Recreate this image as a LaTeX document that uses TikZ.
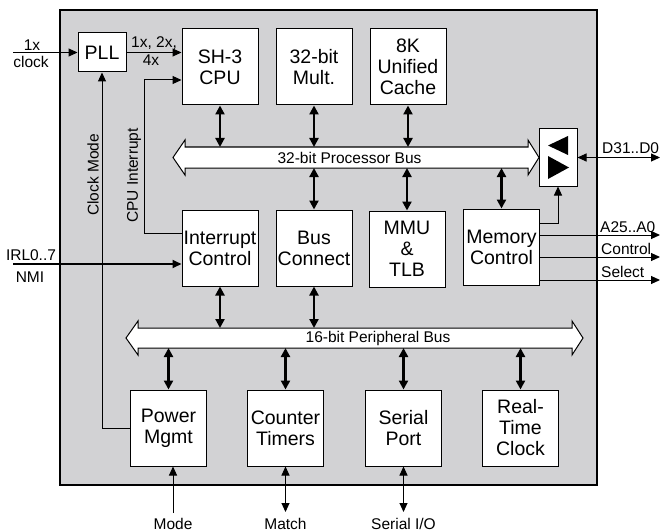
\documentclass[tikz,border=0pt]{standalone}
\usepackage{fontspec}
\setmainfont{Liberation Sans}
\usetikzlibrary{arrows.meta,calc}
\definecolor{chipgray}{RGB}{210,210,212}
\begin{document}
\begin{tikzpicture}[x=1pt,y=-1pt,
  blk/.style={draw,fill=white,line width=1pt,minimum width=76pt,minimum height=76pt,inner sep=0pt,align=center,font=\fontsize{19.5}{21}\selectfont},
  lbl/.style={font=\fontsize{15.5}{17}\selectfont,inner sep=0pt},
  thinarr/.style={line width=1pt,-{Triangle[length=9pt,width=8pt]}},
  thinboth/.style={line width=1pt,{Triangle[length=9pt,width=8pt]}-{Triangle[length=9pt,width=8pt]}},
  thickarr/.style={line width=2pt,-{Triangle[length=9pt,width=8pt]}},
  busarr/.style={line width=2.2pt,{Triangle[length=9pt,width=9pt]}-{Triangle[length=9pt,width=9pt]}},
  busshape/.style={draw,fill=white,line width=1pt,line join=miter}]
\useasboundingbox (0,0) rectangle (661,532);
% chip outline
\node[draw,fill=chipgray,line width=2.5pt,minimum width=537pt,minimum height=475pt,inner sep=0pt] (chip) at (328.5,247.5) {};

% buses
\draw[busshape] (173,157.5) -- (185,140) -- (185,147) -- (528,147) -- (528,140) -- (539,157.5) -- (528,175) -- (528,168) -- (185,168) -- (185,175) -- cycle;
\node[lbl] (pbus) at (349.5,157.5) {32-bit Processor Bus};
\coordinate (pbusN) at (0,147);
\coordinate (pbusS) at (0,168);
\draw[busshape] (126,338) -- (138,321) -- (138,328) -- (572,328) -- (572,321) -- (583,338) -- (572,355) -- (572,348) -- (138,348) -- (138,355) -- cycle;
\node[lbl] (perbus) at (378,338) {16-bit Peripheral Bus};
\coordinate (perN) at (0,328);
\coordinate (perS) at (0,348);

% blocks
\node[blk,minimum width=48pt,minimum height=39pt] (pll) at (102,52.5) {PLL};
\node[blk] (cpu) at (220,67) {SH-3\\CPU};
\node[blk] (mult) at (314,67) {32-bit\\Mult.};
\node[blk] (cache) at (408,67) {8K\\Unified\\Cache};
\node[blk] (intc) at (220,248) {Interrupt\\Control};
\node[blk] (busc) at (314,248) {Bus\\Connect};
\node[blk] (mmu) at (407,249) {MMU\\\&\\TLB};
\node[blk] (memc) at (501.5,247) {Memory\\Control};
\node[blk] (pwr) at (168.5,428) {Power\\Mgmt};
\node[blk] (ctr) at (285.5,428) {Counter\\Timers};
\node[blk] (ser) at (403.5,428) {Serial\\Port};
\node[blk] (rtc) at (520.5,428) {Real-\\Time\\Clock};
\node[draw,fill=white,line width=1pt,minimum width=38pt,minimum height=57pt,inner sep=0pt] (buf) at (558,157.5) {};
\fill (568,136) -- (568,155) -- (548,145.5) -- cycle;
\fill (548,156) -- (548,179) -- (569,167.5) -- cycle;

% processor bus connections
\draw[busarr] (cpu.south) -- (cpu.south |- pbusN);
\draw[busarr] (mult.south) -- (mult.south |- pbusN);
\draw[busarr] (cache.south) -- (cache.south |- pbusN);
\draw[busarr] (busc.north) -- (busc.north |- pbusS);
\draw[busarr] (mmu.north) -- (mmu.north |- pbusS);
\draw[busarr] (memc.north) -- (memc.north |- pbusS);

% peripheral bus connections
\draw[busarr] (intc.south) -- (intc.south |- perN);
\draw[busarr] (busc.south) -- (busc.south |- perN);
\draw[busarr] (pwr.north) -- (pwr.north |- perS);
\draw[busarr] (ctr.north) -- (ctr.north |- perS);
\draw[busarr] (ser.north) -- (ser.north |- perS);
\draw[busarr] (rtc.north) -- (rtc.north |- perS);

% clock
\coordinate (clkin) at (13,52.5);
\draw[thinarr] (clkin) -- (pll.west);
\node[lbl] (l1x) at (32,45) {1x};
\node[lbl] (lclock) at (31,62) {clock};
\draw[thinarr] (pll.east) -- (cpu.west |- pll.east);
\node[lbl] (lmul) at (154,43) {1x, 2x,};
\node[lbl] (l4x) at (151,60) {4x};

% clock mode
\draw[thinarr] (pwr.west) -| (pll.south);
\node[lbl,rotate=90] (lcm) at (93,175) {Clock Mode};

% CPU interrupt
\draw[thinarr] ($(intc.west)+(0,-15)$) -| (144,80) -- (cpu.west |- 0,80);
\node[lbl,rotate=90] (lci) at (134,175.5) {CPU Interrupt};

% IRL/NMI
\coordinate (irl) at (13,264);
\draw[thickarr] (irl) -- (intc.west |- irl);
\node[lbl] (lirl) at (31,255) {IRL0..7};
\node[lbl] (lnmi) at (30,277) {NMI};

% memory control outputs
\draw[thinarr] ($(memc.east)+(0,-24)$) -| (buf.south);
\coordinate (dq) at (660,157.5);
\draw[thinboth] (buf.east) -- (dq);
\node[lbl,anchor=west] (ld) at (602,148) {D31..D0};
\coordinate (aout) at (660,235);
\coordinate (cout) at (660,257);
\coordinate (sout) at (660,280);
\draw[thinarr] (memc.east |- aout) -- (aout);
\draw[thinarr] (memc.east |- cout) -- (cout);
\draw[thinarr] (memc.east |- sout) -- (sout);
\node[lbl,anchor=west] (la) at (600,227) {A25..A0};
\node[lbl,anchor=west] (lc) at (601,248.5) {Control};
\node[lbl,anchor=west] (ls) at (601,272) {Select};

% bottom external
\coordinate (mode) at (173,513);
\draw[thinarr] (mode) -- (mode |- pwr.south);
\coordinate (match) at (285.5,512);
\draw[thinboth] (ctr.south) -- (match);
\coordinate (sio) at (403.5,512);
\draw[thinboth] (ser.south) -- (sio);
\node[lbl] (lmode) at (173,524) {Mode};
\node[lbl] (lmatch) at (285.5,524) {Match};
\node[lbl] (lsio) at (403.5,524) {Serial I/O};
\end{tikzpicture}
\end{document}
